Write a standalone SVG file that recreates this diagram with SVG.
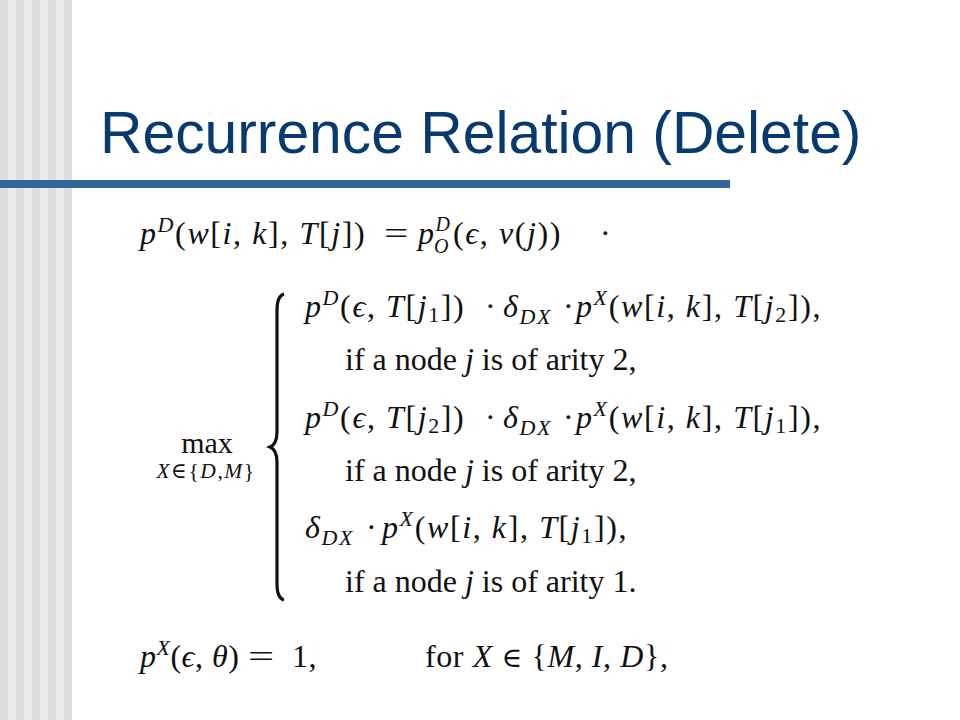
<svg xmlns="http://www.w3.org/2000/svg" width="960" height="720" viewBox="0 0 960 720">
<style>
.m{font-family:"Liberation Serif","DejaVu Serif","Times New Roman",serif;font-size:32px;fill:#111}
.ls{letter-spacing:1.6px}
.i{font-style:italic}
.sp{font-size:22px}
.t{font-family:"Liberation Sans",Arial,sans-serif;font-size:58.8px;fill:#073a6e}
</style>
<rect width="960" height="720" fill="#fff"/>
<g id="stripes">
<rect x="0" y="0" width="72" height="720" fill="#dcdcdc"/>
<rect x="8" y="0" width="8" height="720" fill="#ebebeb"/>
<rect x="24" y="0" width="8" height="720" fill="#ebebeb"/>
<rect x="40" y="0" width="8" height="720" fill="#ebebeb"/>
<rect x="56" y="0" width="8" height="720" fill="#ebebeb"/>
</g>
<rect id="bar" x="0" y="180" width="730" height="8" fill="#336699"/>
<text id="title" class="t" x="100" y="153">Recurrence Relation (Delete)</text>

<g id="line1">
<text class="m ls" y="244"><tspan x="140" class="i">p</tspan><tspan class="sp i" dy="-12">D</tspan><tspan dy="12">(</tspan><tspan class="i">w</tspan>[<tspan class="i">i</tspan>, <tspan class="i">k</tspan>], <tspan class="i">T</tspan>[<tspan class="i">j</tspan>])</text>
<text class="m" x="384" y="244" transform="translate(384 0) scale(1.35 1) translate(-384 0)">=</text>
<text class="m ls" y="244"><tspan x="418" class="i">p</tspan><tspan class="i" style="font-size:20px" dy="-13">D</tspan></text>
<text class="m ls" y="253"><tspan x="434" class="i" style="font-size:20px">O</tspan></text>
<text class="m ls" y="244"><tspan x="453">(</tspan><tspan class="i">ϵ</tspan>, <tspan class="i">v</tspan>(<tspan class="i">j</tspan>))<tspan x="600">·</tspan></text>
</g>

<g id="max">
<text class="m" x="207" y="453" text-anchor="middle" style="font-size:30px">max</text>
<text class="m" x="206" y="478" text-anchor="middle" style="font-size:21.5px;letter-spacing:1.5px"><tspan class="i">X</tspan>∈{<tspan class="i">D</tspan>,<tspan class="i">M</tspan>}</text>
</g>

<path id="brace" d="M284 294 Q277 296 277 310 L277 432 Q277 444 270 447 Q277 450 277 462 L277 584 Q277 598 284 600" fill="none" stroke="#111" stroke-width="3.2"/>

<g id="case1">
<text class="m ls" y="317"><tspan x="305" class="i">p</tspan><tspan class="sp i" dy="-12">D</tspan><tspan dy="12">(</tspan><tspan class="i">ϵ</tspan>, <tspan class="i">T</tspan>[<tspan class="i">j</tspan><tspan class="sp" dy="5">1</tspan><tspan dy="-5">])</tspan><tspan x="485">·</tspan><tspan x="503" class="i">δ</tspan><tspan class="sp i" dy="7">DX</tspan><tspan x="563" dy="-7">·</tspan><tspan x="576" class="i">p</tspan><tspan class="sp i" dy="-12">X</tspan><tspan dy="12">(</tspan><tspan class="i">w</tspan>[<tspan class="i">i</tspan>, <tspan class="i">k</tspan>], <tspan class="i">T</tspan>[<tspan class="i">j</tspan><tspan class="sp" dy="5">2</tspan><tspan dy="-5">]),</tspan></text>
<text class="m" x="345" y="370">if a node <tspan class="i">j</tspan> is of arity 2,</text>
</g>
<g id="case2">
<text class="m ls" y="428"><tspan x="305" class="i">p</tspan><tspan class="sp i" dy="-12">D</tspan><tspan dy="12">(</tspan><tspan class="i">ϵ</tspan>, <tspan class="i">T</tspan>[<tspan class="i">j</tspan><tspan class="sp" dy="5">2</tspan><tspan dy="-5">])</tspan><tspan x="485">·</tspan><tspan x="503" class="i">δ</tspan><tspan class="sp i" dy="7">DX</tspan><tspan x="563" dy="-7">·</tspan><tspan x="576" class="i">p</tspan><tspan class="sp i" dy="-12">X</tspan><tspan dy="12">(</tspan><tspan class="i">w</tspan>[<tspan class="i">i</tspan>, <tspan class="i">k</tspan>], <tspan class="i">T</tspan>[<tspan class="i">j</tspan><tspan class="sp" dy="5">1</tspan><tspan dy="-5">]),</tspan></text>
<text class="m" x="345" y="481">if a node <tspan class="i">j</tspan> is of arity 2,</text>
</g>
<g id="case3">
<text class="m ls" y="538"><tspan x="305" class="i">δ</tspan><tspan class="sp i" dy="7">DX</tspan><tspan x="366" dy="-7">·</tspan><tspan x="382" class="i">p</tspan><tspan class="sp i" dy="-12">X</tspan><tspan dy="12">(</tspan><tspan class="i">w</tspan>[<tspan class="i">i</tspan>, <tspan class="i">k</tspan>], <tspan class="i">T</tspan>[<tspan class="i">j</tspan><tspan class="sp" dy="5">1</tspan><tspan dy="-5">]),</tspan></text>
<text class="m" x="345" y="592">if a node <tspan class="i">j</tspan> is of arity 1.</text>
</g>

<g id="last">
<text class="m" y="667" style="letter-spacing:0.5px"><tspan x="140" class="i">p</tspan><tspan class="sp i" dy="-12">X</tspan><tspan dy="12">(</tspan><tspan class="i">ϵ</tspan>, <tspan class="i">θ</tspan>)</text>
<text class="m" x="248" y="667" transform="translate(248 0) scale(1.45 1) translate(-248 0)">=</text>
<text class="m" y="667" style="letter-spacing:0.6px"><tspan x="292">1,</tspan><tspan x="425">for </tspan><tspan class="i">X</tspan> <tspan style="font-size:28px">∈</tspan> {<tspan class="i">M</tspan>, <tspan class="i">I</tspan>, <tspan class="i">D</tspan>},</text>
</g>
</svg>
